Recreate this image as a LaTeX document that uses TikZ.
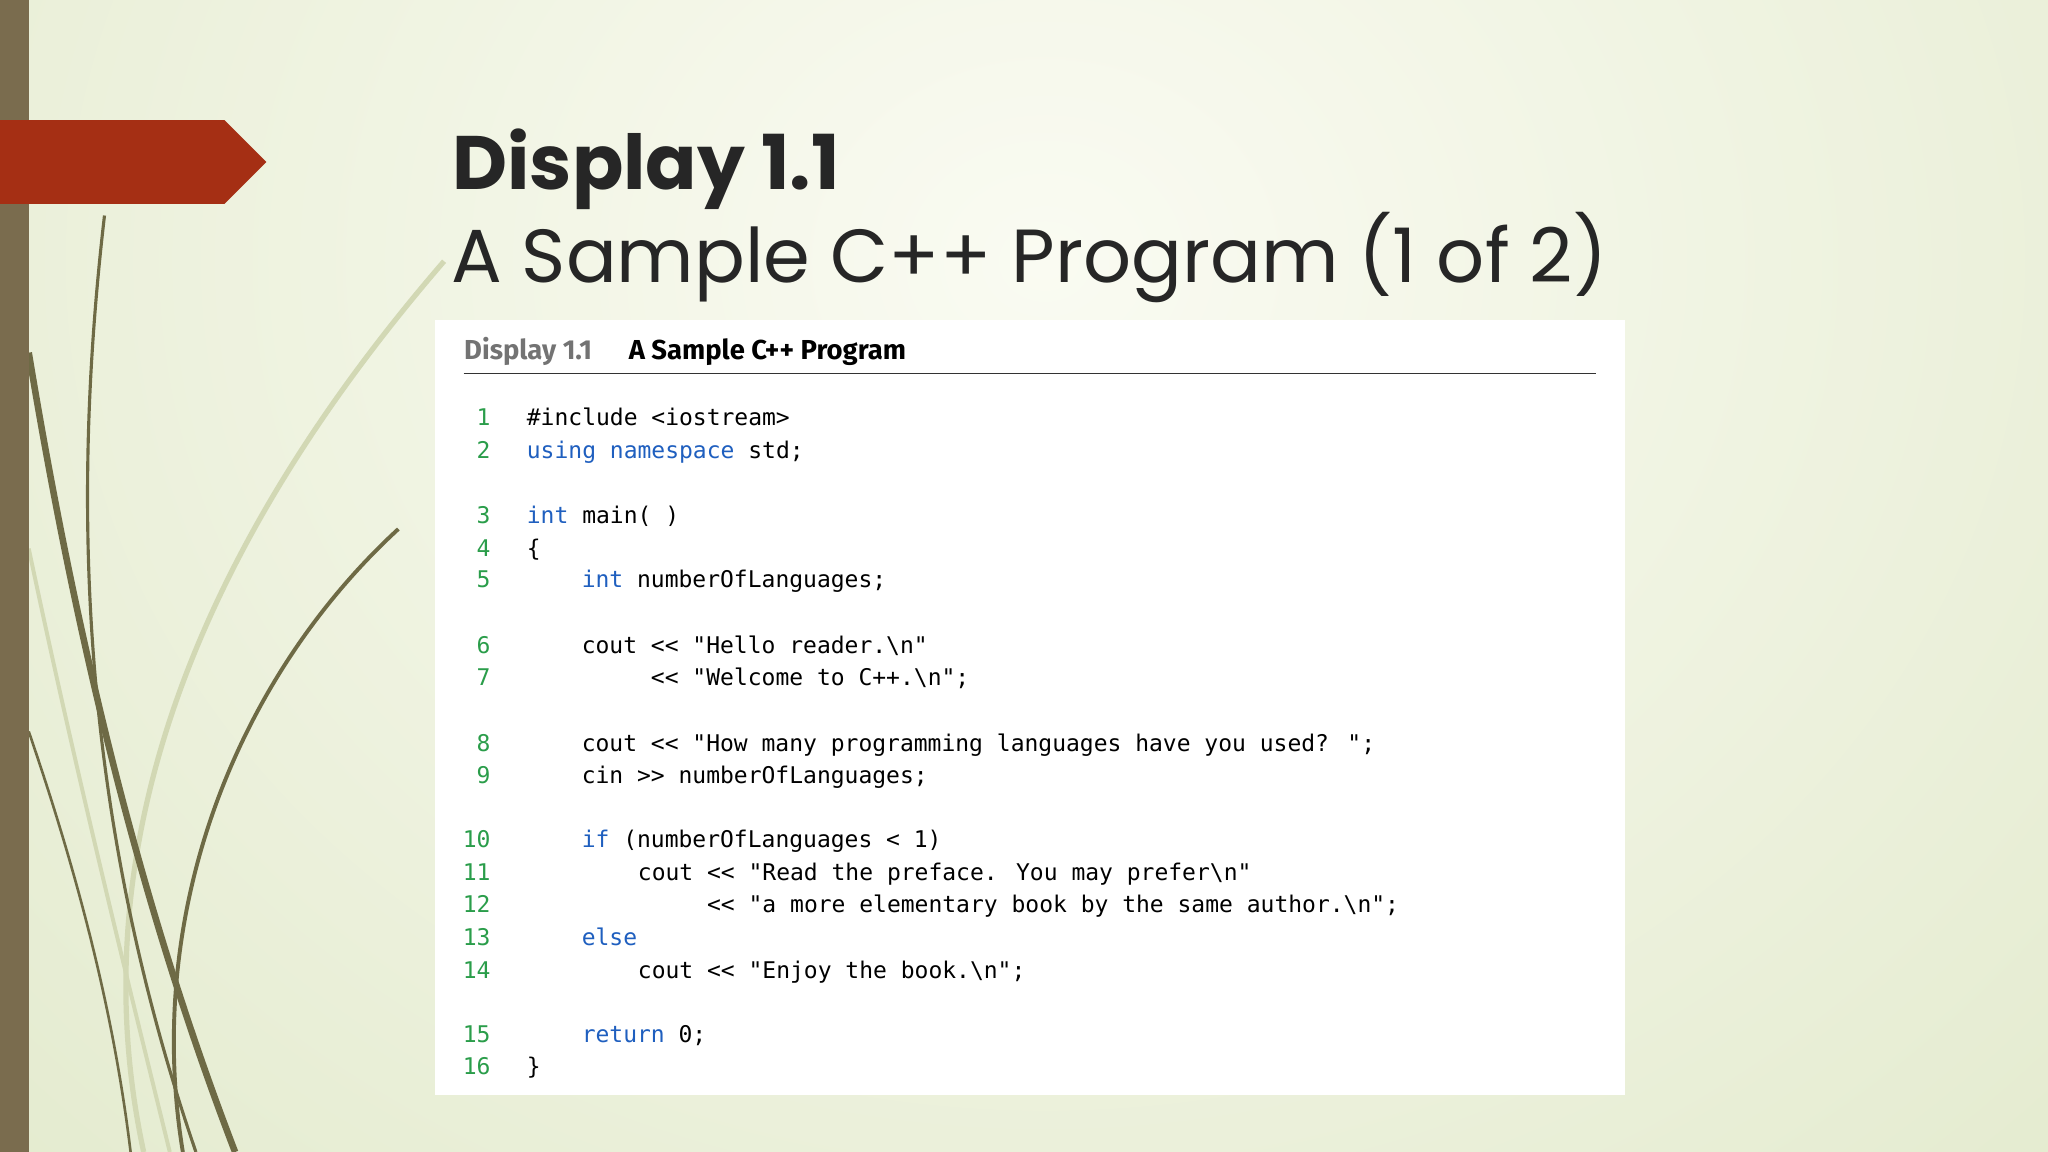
\documentclass[tikz,border=0pt]{standalone}
\usepackage{fontspec}
\setmainfont{Poppins}
\newfontfamily\codefont{DejaVu Sans Mono}
\newfontfamily\headfont{Fira Sans}
\definecolor{bgmid}{HTML}{FAFBF2}
\definecolor{bgedge}{HTML}{DDE6C4}
\definecolor{barc}{HTML}{7A6C4E}
\definecolor{redc}{HTML}{A52F14}
\definecolor{grass}{HTML}{6E6A45}
\definecolor{grasslt}{HTML}{D2D8B4}
\definecolor{kw}{HTML}{1F5FBF}
\definecolor{num}{HTML}{2A9D4A}
\begin{document}
\begin{tikzpicture}[x=0.5pt,y=-0.5pt,
  codeline/.style={anchor=base west,inner sep=0,font=\codefont\fontsize{8.8}{10}\selectfont},
  numline/.style={anchor=base east,inner sep=0,text=num,font=\codefont\fontsize{8.8}{10}\selectfont}]
\useasboundingbox (0,0) rectangle (1568,882);
\shade[inner color=bgmid,outer color=bgedge] (-700,-1100) rectangle (2300,1500);
% grass
\draw[grasslt,line width=2pt] (340,200) .. controls (150,420) and (60,650) .. (110,882);
\draw[grasslt,line width=1.5pt] (22,420) .. controls (60,600) and (100,760) .. (130,882);
\draw[grass,line width=1.2pt] (80,165) .. controls (55,380) and (60,620) .. (150,882);
\draw[grass,line width=2.5pt] (22,270) .. controls (60,500) and (110,700) .. (180,882);
\draw[grass,line width=1.5pt] (305,405) .. controls (180,520) and (110,700) .. (140,882);
\draw[grass,line width=1pt] (22,560) .. controls (70,700) and (90,800) .. (100,882);
\fill[barc] (0,0) rectangle (22,882);
\fill[redc] (0,92) -- (172,92) -- (204,124) -- (172,156) -- (0,156) -- cycle;
\node[anchor=base west,inner sep=0,font=\bfseries\fontsize{29}{34}\selectfont,text=black!85] (t1) at (346,145) {Display 1.1};
\node[anchor=base west,inner sep=0,font=\fontsize{28.8}{34}\selectfont,text=black!85] (t2) at (345,216) {A Sample C++ Program (1 of 2)};
\fill[white] (333,245) rectangle (1244,838);
\node[anchor=base west,inner sep=0,font=\headfont\bfseries\fontsize{10.5}{12}\selectfont,text=black!55] (h1) at (355,275) {Display 1.1};
\node[anchor=base west,inner sep=0,font=\headfont\bfseries\fontsize{10.5}{12}\selectfont] (h2) at (481,275) {A Sample C++ Program};
\draw[black!80,line width=0.6pt] (355,286) -- (1222,286);
\foreach \n/\y in {1/326,2/351,3/401,4/426,5/450,6/500,7/525,8/575,9/600,10/649,11/674,12/699,13/724,14/749,15/798,16/823}
  \node[numline] (n\n) at (376,\y) {\n};
\newcommand\kw[1]{\textcolor{kw}{#1}}
\node[codeline] (c1) at (403,326) {\#include <iostream>};
\node[codeline] (c2) at (403,351) {\kw{using} \kw{namespace} std;};
\node[codeline] (c3) at (403,401) {\kw{int} main( )};
\node[codeline] (c4) at (403,426) {\{};
\node[codeline] (c5) at (445,450) {\kw{int} numberOfLanguages;};
\node[codeline] (c6) at (445,500) {cout << "Hello reader.\textbackslash n"};
\node[codeline] (c7) at (498,525) {<< "Welcome to C++.\textbackslash n";};
\node[codeline] (c8) at (445,575) {cout << "How many programming languages have you used? ";};
\node[codeline] (c9) at (445,600) {cin >> numberOfLanguages;};
\node[codeline] (c10) at (445,649) {\kw{if} (numberOfLanguages < 1)};
\node[codeline] (c11) at (488,674) {cout << "Read the preface. You may prefer\textbackslash n"};
\node[codeline] (c12) at (541,699) {<< "a more elementary book by the same author.\textbackslash n";};
\node[codeline] (c13) at (445,724) {\kw{else}};
\node[codeline] (c14) at (488,749) {cout << "Enjoy the book.\textbackslash n";};
\node[codeline] (c15) at (445,798) {\kw{return} 0;};
\node[codeline] (c16) at (403,823) {\}};
\end{tikzpicture}
\end{document}
